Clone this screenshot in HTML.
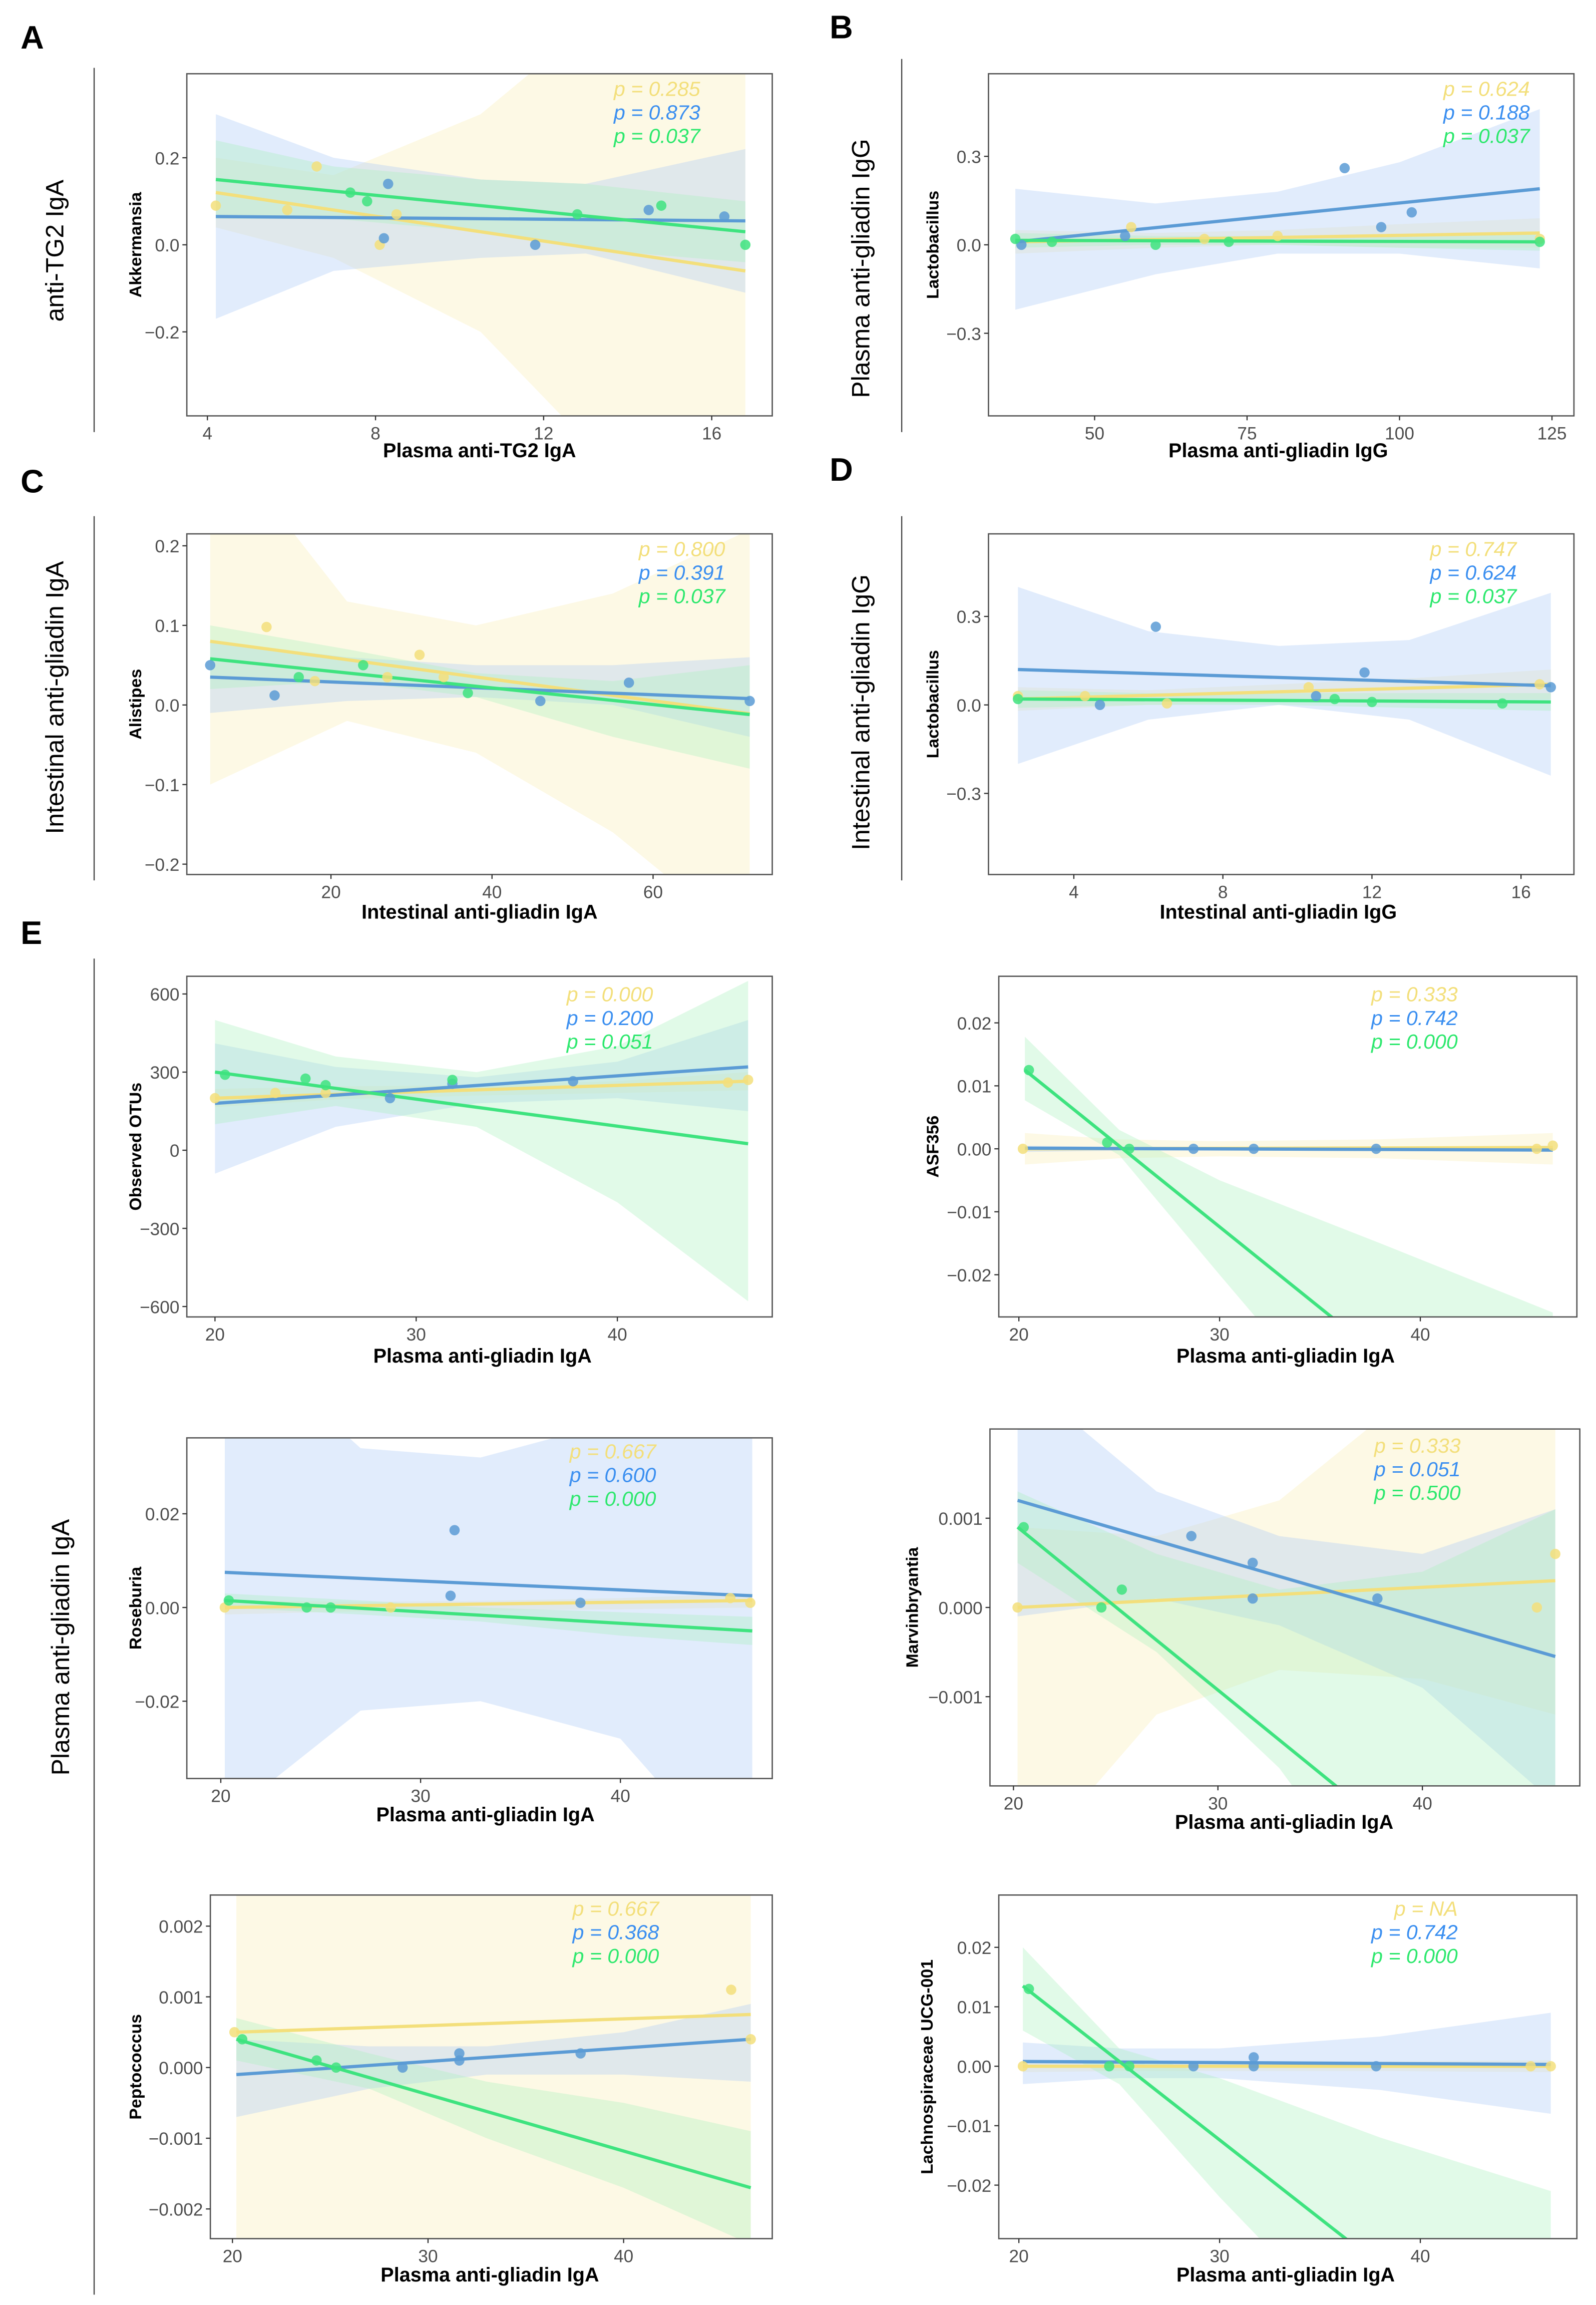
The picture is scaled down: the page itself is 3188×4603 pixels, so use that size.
<!DOCTYPE html>
<html><head><meta charset="utf-8">
<style>
html,body{margin:0;padding:0;background:#fff;overflow:hidden;width:3188px;height:4603px;}
svg{display:block;position:absolute;left:0;top:0;}
.tick{font-family:"Liberation Sans Narrow","Liberation Sans",sans-serif;font-size:12px;fill:#4d4d4d;}
.xt{font-family:"Liberation Sans Narrow","Liberation Sans",sans-serif;font-size:13.5px;font-weight:bold;fill:#000;}
.yt{font-family:"Liberation Sans",sans-serif;font-size:11.5px;font-weight:bold;fill:#000;}
.outer{font-family:"Liberation Sans",sans-serif;font-size:17px;fill:#000;}
.letter{font-family:"Liberation Sans",sans-serif;font-size:22px;font-weight:bold;fill:#000;}
.pv{font-family:"Liberation Sans Narrow","Liberation Sans",sans-serif;font-size:14px;font-style:italic;}
</style></head>
<body>
<svg id="fig" xmlns="http://www.w3.org/2000/svg" width="3188" height="4603" viewBox="0 0 1085 1563" preserveAspectRatio="none">
<text class="letter" x="14" y="33">A</text>
<text class="letter" x="564" y="26">B</text>
<text class="letter" x="14" y="334">C</text>
<text class="letter" x="564" y="326">D</text>
<text class="letter" x="14" y="640">E</text>
<line x1="64" y1="46" x2="64" y2="293" stroke="#444" stroke-width="0.8"/>
<line x1="613" y1="40" x2="613" y2="293" stroke="#444" stroke-width="0.8"/>
<line x1="64" y1="350" x2="64" y2="597" stroke="#444" stroke-width="0.8"/>
<line x1="613" y1="350" x2="613" y2="597" stroke="#444" stroke-width="0.8"/>
<line x1="64" y1="650" x2="64" y2="1556" stroke="#444" stroke-width="0.8"/>
<text class="outer" transform="translate(43,170) rotate(-90)" text-anchor="middle">anti-TG2 IgA</text>
<text class="outer" transform="translate(591,182) rotate(-90)" text-anchor="middle">Plasma anti-gliadin IgG</text>
<text class="outer" transform="translate(43,473) rotate(-90)" text-anchor="middle">Intestinal anti-gliadin IgA</text>
<text class="outer" transform="translate(591,483) rotate(-90)" text-anchor="middle">Intestinal anti-gliadin IgG</text>
<text class="outer" transform="translate(47,1117) rotate(-90)" text-anchor="middle">Plasma anti-gliadin IgA</text>
</svg>
<script>
// ===== Panel A =====
const A_xticks=[4,8,12,16];
const A_yticks=[-0.2,0.0,0.2];
const A_ylabels=["\u22120.2","0.0","0.2"];
const A_pvals=["0.285","0.873","0.037"];
const A_yel_px=[4.2,5.9,6.6,8.1,8.5]; const A_yel_py=[0.09,0.08,0.18,0.0,0.07];
const A_blu_px=[8.2,8.3,11.8,14.5,16.3]; const A_blu_py=[0.015,0.14,0.0,0.08,0.065];
const A_grn_px=[7.4,7.8,12.8,14.8,16.8]; const A_grn_py=[0.12,0.10,0.07,0.09,0.0];
const A_lx=[4.2,16.8];
const A_yel_ly=[0.12,-0.06]; const A_blu_ly=[0.065,0.055]; const A_grn_ly=[0.15,0.03];
const A_bx=[4.2,7,10.5,13,16.8];
const A_yel_bu=[0.2,0.16,0.3,0.5,0.9]; const A_yel_bl=[0.04,-0.03,-0.2,-0.45,-0.95];
const A_blu_bu=[0.30,0.2,0.15,0.14,0.22]; const A_blu_bl=[-0.17,-0.06,-0.03,-0.02,-0.11];
const A_grn_bu=[0.24,0.18,0.15,0.14,0.10]; const A_grn_bl=[0.06,0.06,0.03,-0.01,-0.04];
// ===== Panel B =====
const B_xticks=[50,75,100,125];
const B_yticks=[-0.3,0,0.3];
const B_ylabels=["\u22120.3","0.0","0.3"];
const B_pvals=["0.624","0.188","0.037"];
const B_yel_px=[56,68,80,123]; const B_yel_py=[0.06,0.02,0.03,0.02];
const B_blu_px=[38,55,91,97,102]; const B_blu_py=[0.0,0.03,0.26,0.06,0.11];
const B_grn_px=[37,43,60,72,123]; const B_grn_py=[0.02,0.01,0.0,0.01,0.01];
const B_lx=[37,123];
const B_yel_ly=[0.01,0.04]; const B_blu_ly=[0.01,0.19]; const B_grn_ly=[0.015,0.01];
const B_bx=[37,60,80,100,123];
const B_yel_bu=[0.05,0.04,0.05,0.07,0.09]; const B_yel_bl=[-0.03,-0.01,0.0,-0.01,-0.01];
const B_blu_bu=[0.19,0.14,0.18,0.28,0.46]; const B_blu_bl=[-0.22,-0.1,-0.03,-0.03,-0.08];
const B_grn_bu=[0.04,0.03,0.03,0.03,0.04]; const B_grn_bl=[-0.01,0.0,0.0,-0.01,-0.02];
// ===== Panel C =====
const C_xticks=[20,40,60];
const C_yticks=[-0.2,-0.1,0,0.1,0.2];
const C_ylabels=["\u22120.2","\u22120.1","0.0","0.1","0.2"];
const C_pvals=["0.800","0.391","0.037"];
const C_yel_px=[12,18,27,31,34]; const C_yel_py=[0.098,0.03,0.035,0.063,0.035];
const C_blu_px=[5,13,46,57,72]; const C_blu_py=[0.05,0.012,0.005,0.028,0.005];
const C_grn_px=[16,24,37]; const C_grn_py=[0.035,0.05,0.015];
const C_lx=[5,72];
const C_yel_ly=[0.08,-0.011]; const C_blu_ly=[0.035,0.008]; const C_grn_ly=[0.058,-0.012];
const C_bx=[5,22,38,55,72];
const C_yel_bu=[0.35,0.13,0.1,0.14,0.22]; const C_yel_bl=[-0.1,-0.02,-0.06,-0.16,-0.3];
const C_blu_bu=[0.08,0.06,0.05,0.05,0.06]; const C_blu_bl=[-0.01,0.005,0.01,0.0,-0.04];
const C_grn_bu=[0.1,0.07,0.04,0.03,0.05]; const C_grn_bl=[0.02,0.03,0.01,-0.04,-0.08];
// ===== Panel D =====
const D_xticks=[4,8,12,16];
const D_yticks=[-0.3,0,0.3];
const D_ylabels=["\u22120.3","0.0","0.3"];
const D_pvals=["0.747","0.624","0.037"];
const D_yel_px=[2.5,4.3,6.5,10.3,16.5]; const D_yel_py=[0.03,0.03,0.005,0.06,0.07];
const D_blu_px=[4.7,6.2,10.5,11.8,16.8]; const D_blu_py=[0.0,0.265,0.03,0.11,0.06];
const D_grn_px=[2.5,11,12,15.5]; const D_grn_py=[0.02,0.02,0.01,0.005];
const D_lx=[2.5,16.8];
const D_yel_ly=[0.02,0.07]; const D_blu_ly=[0.12,0.065]; const D_grn_ly=[0.02,0.01];
const D_bx=[2.5,6,9.5,13,16.8];
const D_yel_bu=[0.06,0.05,0.07,0.09,0.12]; const D_yel_bl=[-0.02,0.0,0.01,0.02,0.02];
const D_blu_bu=[0.4,0.25,0.2,0.22,0.38]; const D_blu_bl=[-0.2,-0.05,0.0,-0.05,-0.24];
const D_grn_bu=[0.05,0.04,0.04,0.04,0.04]; const D_grn_bl=[-0.01,0.0,0.0,-0.01,-0.02];
// ===== Panel E1 =====
const E1_xticks=[20,30,40];
const E1_yticks=[-600,-300,0,300,600];
const E1_ylabels=["\u2212600","\u2212300","0","300","600"];
const E1_pvals=["0.000","0.200","0.051"];
const E1_yel_px=[20,23,25.5,45.5,46.5]; const E1_yel_py=[200,220,220,260,270];
const E1_blu_px=[28.7,31.8,37.8]; const E1_blu_py=[200,255,265];
const E1_grn_px=[20.5,24.5,25.5,31.8]; const E1_grn_py=[290,275,250,270];
const E1_lx=[20,46.5];
const E1_yel_ly=[200,265]; const E1_blu_ly=[180,320]; const E1_grn_ly=[300,25];
const E1_bx=[20,26,33,40,46.5];
const E1_yel_bu=[235,245,250,265,300]; const E1_yel_bl=[165,195,210,220,230];
const E1_blu_bu=[410,320,280,340,500]; const E1_blu_bl=[-90,90,180,200,150];
const E1_grn_bu=[500,360,300,400,650]; const E1_grn_bl=[100,170,90,-200,-580];
// ===== Panel E2 =====
const E2_xticks=[20,30,40];
const E2_yticks=[-0.02,-0.01,0,0.01,0.02];
const E2_ylabels=["\u22120.02","\u22120.01","0.00","0.01","0.02"];
const E2_pvals=["0.333","0.742","0.000"];
const E2_yel_px=[20.2,45.8,46.6]; const E2_yel_py=[0,0,0.0005];
const E2_blu_px=[28.7,31.7,37.8]; const E2_blu_py=[0,0,0];
const E2_grn_px=[20.5,24.4,25.5]; const E2_grn_py=[0.0125,0.001,0];
const E2_lx=[20.3,46.6];
const E2_yel_ly=[0,0.0002]; const E2_blu_ly=[0.0001,-0.0002]; const E2_grn_ly=[0.0125,-0.055];
const E2_bx=[20.3,25,30,38,46.6];
const E2_yel_bu=[0.0025,0.0015,0.0012,0.0015,0.0025]; const E2_yel_bl=[-0.0025,-0.0015,-0.0012,-0.0015,-0.0025];
const E2_blu_bu=[0.0005,0.0003,0.0003,0.0003,0.0005]; const E2_blu_bl=[-0.0005,-0.0003,-0.0003,-0.0003,-0.0005];
const E2_grn_bu=[0.0178,0.003,-0.005,-0.015,-0.026]; const E2_grn_bl=[0.0077,-0.001,-0.02,-0.05,-0.085];
// ===== Panel E3 =====
const E3_xticks=[20,30,40];
const E3_yticks=[-0.02,0,0.02];
const E3_ylabels=["\u22120.02","0.00","0.02"];
const E3_pvals=["0.667","0.600","0.000"];
const E3_yel_px=[20.2,28.5,45.5,46.5]; const E3_yel_py=[0,0,0.002,0.001];
const E3_blu_px=[31.7,31.5,38]; const E3_blu_py=[0.0165,0.0025,0.001];
const E3_grn_px=[20.4,24.3,25.5]; const E3_grn_py=[0.0015,0,0];
const E3_lx=[20.2,46.6];
const E3_yel_ly=[0,0.0015]; const E3_blu_ly=[0.0075,0.0025]; const E3_grn_ly=[0.0015,-0.005];
const E3_bx=[20.2,27,33,40,46.6];
const E3_yel_bu=[0.0015,0.0012,0.0014,0.002,0.003]; const E3_yel_bl=[-0.0015,-0.0008,-0.0006,-0.0004,0];
const E3_blu_bu=[0.06,0.034,0.032,0.04,0.06]; const E3_blu_bl=[-0.045,-0.022,-0.02,-0.028,-0.06];
const E3_grn_bu=[0.003,0.0015,0.0,-0.001,-0.002]; const E3_grn_bl=[0.0,-0.0015,-0.003,-0.006,-0.008];
// ===== Panel E4 =====
const E4_xticks=[20,30,40];
const E4_yticks=[-0.001,0,0.001];
const E4_ylabels=["\u22120.001","0.000","0.001"];
const E4_pvals=["0.333","0.051","0.500"];
const E4_yel_px=[20.2,45.6,46.5]; const E4_yel_py=[0,0,0.0006];
const E4_blu_px=[28.7,31.7,31.7,37.8]; const E4_blu_py=[0.0008,0.0005,0.0001,0.0001];
const E4_grn_px=[20.5,24.3,25.3]; const E4_grn_py=[0.0009,0,0.0002];
const E4_lx=[20.2,46.5];
const E4_yel_ly=[0,0.0003]; const E4_blu_ly=[0.0012,-0.00055]; const E4_grn_ly=[0.0009,-0.004];
const E4_bx=[20.2,27,33,40,46.5];
const E4_yel_bu=[0.0009,0.0008,0.0012,0.0025,0.004]; const E4_yel_bl=[-0.003,-0.0012,-0.0007,-0.0008,-0.0012];
const E4_blu_bu=[0.0026,0.0013,0.0008,0.0006,0.0011]; const E4_blu_bl=[-0.0001,0.0001,-0.0002,-0.0009,-0.0022];
const E4_grn_bu=[0.0013,0.0006,0.0002,0.0004,0.0011]; const E4_grn_bl=[0.0005,-0.0005,-0.0018,-0.004,-0.006];
// ===== Panel E5 =====
const E5_xticks=[20,30,40];
const E5_yticks=[-0.002,-0.001,0,0.001,0.002];
const E5_ylabels=["\u22120.002","\u22120.001","0.000","0.001","0.002"];
const E5_pvals=["0.667","0.368","0.000"];
const E5_yel_px=[20.1,45.5,46.5]; const E5_yel_py=[0.0005,0.0011,0.0004];
const E5_blu_px=[28.7,31.6,31.6,37.8]; const E5_blu_py=[0,0.0002,0.0001,0.0002];
const E5_grn_px=[20.5,24.3,25.3]; const E5_grn_py=[0.0004,0.0001,0];
const E5_lx=[20.2,46.5];
const E5_yel_ly=[0.0005,0.00075]; const E5_blu_ly=[-0.0001,0.0004]; const E5_grn_ly=[0.0004,-0.0017];
const E5_bx=[20.2,27,33,40,46.5];
const E5_yel_bu=[0.004,0.003,0.003,0.003,0.004]; const E5_yel_bl=[-0.004,-0.003,-0.003,-0.003,-0.004];
const E5_blu_bu=[0.0004,0.0003,0.0003,0.0005,0.0009]; const E5_blu_bl=[-0.0007,-0.0003,-0.0001,-0.0001,-0.0002];
const E5_grn_bu=[0.0007,0.0002,-0.0002,-0.0005,-0.0009]; const E5_grn_bl=[0.0001,-0.0003,-0.001,-0.0017,-0.0025];
// ===== Panel E6 =====
const E6_xticks=[20,30,40];
const E6_yticks=[-0.02,-0.01,0,0.01,0.02];
const E6_ylabels=["\u22120.02","\u22120.01","0.00","0.01","0.02"];
const E6_pvals=[" NA","0.742","0.000"];
const E6_yel_px=[20.2,45.5,46.5]; const E6_yel_py=[0,0,0];
const E6_blu_px=[28.7,31.7,31.7,37.8]; const E6_blu_py=[0,0.0015,0,0];
const E6_grn_px=[20.5,24.5,25.5]; const E6_grn_py=[0.013,0,0];
const E6_lx=[20.2,46.5];
const E6_yel_ly=[0,0]; const E6_blu_ly=[0.0008,0.0003]; const E6_grn_ly=[0.0135,-0.056];
const E6_bx=[20.2,25,30,38,46.5];
const E6_yel_bu=[0.001,0.0008,0.0008,0.0008,0.001]; const E6_yel_bl=[-0.001,-0.0008,-0.0008,-0.0008,-0.001];
const E6_blu_bu=[0.004,0.003,0.003,0.005,0.009]; const E6_blu_bl=[-0.003,-0.002,-0.002,-0.004,-0.008];
const E6_grn_bu=[0.02,0.003,-0.002,-0.012,-0.021]; const E6_grn_bl=[0.006,-0.003,-0.022,-0.05,-0.09];

const NS="http://www.w3.org/2000/svg";
const svg=document.getElementById('fig');
const COL={yel:"#f3df7b",blu:"#5b9bd5",grn:"#3ee37f"};
const BAND={yel:"rgba(250,238,180,0.35)",blu:"rgba(170,200,245,0.35)",grn:"rgba(170,240,190,0.35)"};
const PCOL={yel:"#f3df7b",blu:"#3b8ff0",grn:"#2ee86e"};

function el(tag,attrs,parent){const e=document.createElementNS(NS,tag);for(const k in attrs)e.setAttribute(k,attrs[k]);(parent||svg).appendChild(e);return e;}

function drawPanel(id,L,D){
  const g=el('g',{});
  
  
  const sx=v=>L.x0+(v-L.dx[0])/(L.dx[1]-L.dx[0])*(L.x1-L.x0);
  const sy=v=>L.y1-(v-L.dy[0])/(L.dy[1]-L.dy[0])*(L.y1-L.y0);
  const cp=el('clipPath',{id:'clip-'+id},g);
  el('rect',{x:L.x0,y:L.y0,width:L.x1-L.x0,height:L.y1-L.y0},cp);
  const pg=el('g',{'clip-path':'url(#clip-'+id+')'},g);
  const ser=['yel','blu','grn'];
  ser.forEach(s=>{
    const bx=D.bx,bu=D[s+'_bu'],bl=D[s+'_bl'];
    let pts=bx.map((x,i)=>sx(x)+','+sy(bu[i]));
    for(let i=bx.length-1;i>=0;i--)pts.push(sx(bx[i])+','+sy(bl[i]));
    const b=el('polygon',{points:pts.join(' '),fill:BAND[s]},pg);
    
    
  });
  ser.forEach(s=>{
    const ly=D[s+'_ly'];
    const l=el('line',{x1:sx(D.lx[0]),y1:sy(ly[0]),x2:sx(D.lx[1]),y2:sy(ly[1]),stroke:COL[s],'stroke-width':2.2},pg);
    
    
  });
  ser.forEach(s=>{
    D[s+'_px'].forEach((x,i)=>{
      const c=el('circle',{cx:sx(x),cy:sy(D[s+'_py'][i]),r:3.5,fill:COL[s],'fill-opacity':0.85},pg);
      
      
    });
  });
  const fr=el('rect',{x:L.x0,y:L.y0,width:L.x1-L.x0,height:L.y1-L.y0,fill:'none',stroke:'#555','stroke-width':0.9},g);
  
  
  D.xticks.forEach(v=>{
    el('line',{x1:sx(v),y1:L.y1,x2:sx(v),y2:L.y1+3,stroke:'#333','stroke-width':0.8},g);
    const t=el('text',{x:sx(v),y:L.y1+16,'text-anchor':'middle',class:'tick'},g);
    t.textContent=v;
    
    
  });
  D.yticks.forEach((v,i)=>{
    el('line',{x1:L.x0-3,y1:sy(v),x2:L.x0,y2:sy(v),stroke:'#333','stroke-width':0.8},g);
    const t=el('text',{x:L.x0-5,y:sy(v)+4.5,'text-anchor':'end',class:'tick'},g);
    t.textContent=D.ylabels[i];
    
    
  });
  const xt=el('text',{x:L.xtx,y:L.xty,'text-anchor':'middle',class:'xt'},g);
  xt.textContent=L.xtitle;
  
  
  const yt=el('text',{transform:'translate('+L.ytx+','+((L.y0+L.y1)/2)+') rotate(-90)','text-anchor':'middle',class:'yt'},g);
  yt.textContent=L.ytitle;
  
  
  ser.forEach((s,i)=>{
    const t=el('text',{x:L.px,y:L.py+16*i,'text-anchor':'end',class:'pv',fill:PCOL[s]},g);
    t.textContent='p = '+D.pvals[i];
    
    
  });
}
function pack(p){const o={};['xticks','yticks','ylabels','pvals','lx','bx'].forEach(k=>o[k]=eval(p+'_'+k));
  ['yel','blu','grn'].forEach(s=>['px','py','ly','bu','bl'].forEach(k=>o[s+'_'+k]=eval(p+'_'+s+'_'+k)));return o;}

const LAY={
 A:{x0:127,x1:525,y0:50,y1:282,dx:[3.51,17.44],dy:[-0.393,0.393],xtitle:'Plasma anti-TG2 IgA',xtx:326,xty:310,ytitle:'Akkermansia',ytx:96,px:476,py:65},
 B:{x0:672,x1:1070,y0:50,y1:282,dx:[32.6,128.6],dy:[-0.58,0.58],xtitle:'Plasma anti-gliadin IgG',xtx:869,xty:310,ytitle:'Lactobacillus',ytx:638,px:1040,py:65},
 C:{x0:127,x1:525,y0:362,y1:593,dx:[2.1,74.8],dy:[-0.213,0.215],xtitle:'Intestinal anti-gliadin IgA',xtx:326,xty:623,ytitle:'Alistipes',ytx:96,px:493,py:377},
 D:{x0:672,x1:1070,y0:362,y1:593,dx:[1.71,17.42],dy:[-0.575,0.58],xtitle:'Intestinal anti-gliadin IgG',xtx:869,xty:623,ytitle:'Lactobacillus',ytx:638,px:1031,py:377},
 E1:{x0:127,x1:525,y0:662,y1:893,dx:[18.6,47.7],dy:[-640,668],xtitle:'Plasma anti-gliadin IgA',xtx:328,xty:924,ytitle:'Observed OTUs',ytx:96,px:444,py:679},
 E2:{x0:679,x1:1072,y0:662,y1:893,dx:[19,47.8],dy:[-0.0267,0.0274],xtitle:'Plasma anti-gliadin IgA',xtx:874,xty:924,ytitle:'ASF356',ytx:638,px:991,py:679},
 E3:{x0:127,x1:525,y0:975,y1:1206,dx:[18.3,47.6],dy:[-0.0365,0.0362],xtitle:'Plasma anti-gliadin IgA',xtx:330,xty:1235,ytitle:'Roseburia',ytx:96,px:446,py:989},
 E4:{x0:673,x1:1074,y0:969,y1:1211,dx:[18.85,47.7],dy:[-0.002,0.002],xtitle:'Plasma anti-gliadin IgA',xtx:873,xty:1240,ytitle:'Marvinbryantia',ytx:624,px:993,py:985},
 E5:{x0:143,x1:525,y0:1285,y1:1518,dx:[18.87,47.6],dy:[-0.00242,0.00244],xtitle:'Plasma anti-gliadin IgA',xtx:333,xty:1547,ytitle:'Peptococcus',ytx:96,px:448,py:1299},
 E6:{x0:679,x1:1072,y0:1285,y1:1518,dx:[19,47.8],dy:[-0.029,0.0288],xtitle:'Plasma anti-gliadin IgA',xtx:874,xty:1547,ytitle:'Lachnospiraceae UCG-001',ytx:634,px:991,py:1299}
};
['A','B','C','D','E1','E2','E3','E4','E5','E6'].forEach(p=>drawPanel(p.toLowerCase(),LAY[p],pack(p)));
</script>
</body></html>
